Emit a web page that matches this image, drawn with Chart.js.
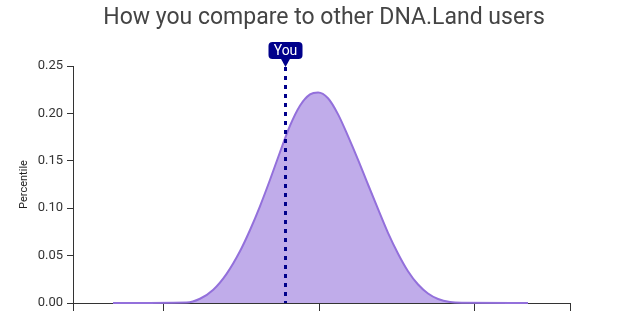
<!DOCTYPE html>
<html>
<head>
<meta charset="utf-8">
<script src="https://cdn.jsdelivr.net/npm/chart.js@4/dist/chart.umd.min.js"></script>
<style>
  body { margin: 0; background: #fff; }
  #wrap { width: 630px; height: 311px; }
</style>
</head>
<body>
<div id="wrap"><canvas id="scoreChart" width="630" height="311"></canvas></div>
<script>
// Score axis (one tick step = 1 unit)
const scoreValues = [-1.329, -0.854, -0.768, -0.682, -0.595, -0.510, -0.445, -0.381, -0.316, -0.252,
    -0.187, -0.123, -0.058, -0.006, 0.058, 0.123, 0.187, 0.252, 0.316, 0.381,
    0.445, 0.510, 0.574, 0.639, 0.703, 0.768, 0.845, 0.920, 1.348];
// Share of users at each score
const percentileValues = [0, 0.0005, 0.0045, 0.0140, 0.0310, 0.0545, 0.0770, 0.1020, 0.1300, 0.1590,
    0.1870, 0.2080, 0.2200, 0.2220, 0.2160, 0.1990, 0.1760, 0.1510, 0.1250, 0.0990,
    0.0740, 0.0520, 0.0335, 0.0195, 0.0100, 0.0042, 0.0010, 0.0002, 0];
const yTicks = [0, 0.05, 0.10, 0.15, 0.20, 0.25];
const xRange = [-1.587, 1.619];
const youScore = -0.219;
const chartTitle = 'How you compare to other DNA.Land users';

const points = scoreValues.map((x, i) => ({ x: x, y: percentileValues[i] }));

// Draws the title and the "You" marker
const overlayPlugin = {
    id: 'overlay',
    afterDatasetsDraw(chart) {
        const ctx = chart.ctx;
        const area = chart.chartArea;
        const x = Math.round(chart.scales.x.getPixelForValue(youScore)) + 0.5;

        ctx.save();
        ctx.strokeStyle = '#00008b';
        ctx.lineWidth = 3;
        ctx.setLineDash([4, 5]);
        ctx.beginPath();
        ctx.moveTo(x, area.top + 1);
        ctx.lineTo(x, area.bottom);
        ctx.stroke();
        ctx.setLineDash([]);

        // label box with pointer
        ctx.fillStyle = '#00008b';
        ctx.beginPath();
        ctx.roundRect(x - 17, area.top - 24, 34, 17, 4);
        ctx.fill();
        ctx.beginPath();
        ctx.moveTo(x - 5, area.top - 8);
        ctx.lineTo(x + 5, area.top - 8);
        ctx.lineTo(x, area.top + 1);
        ctx.closePath();
        ctx.fill();

        ctx.fillStyle = '#ffffff';
        ctx.font = '14px Roboto';
        ctx.textAlign = 'center';
        ctx.textBaseline = 'middle';
        ctx.fillText('You', x, area.top - 15);

        ctx.fillStyle = '#444444';
        ctx.font = '23px Roboto';
        ctx.fillText(chartTitle, 324, 18);
        ctx.restore();
    }
};

new Chart(document.getElementById('scoreChart'), {
    type: 'line',
    data: {
        datasets: [{
            data: points,
            borderColor: 'rgb(147, 112, 219)',
            backgroundColor: 'rgba(147, 112, 219, 0.58)',
            borderWidth: 2,
            fill: 'origin',
            pointRadius: 0,
            cubicInterpolationMode: 'monotone',
            clip: false
        }]
    },
    options: {
        responsive: false,
        animation: false,
        layout: { padding: { top: 66, right: 60, bottom: 0, left: 0 } },
        plugins: {
            legend: { display: false },
            tooltip: { enabled: false },
            title: { display: false }
        },
        scales: {
            x: {
                type: 'linear',
                min: xRange[0],
                max: xRange[1],
                afterFit(scale) { scale.height = 8; scale.paddingLeft = 0; scale.paddingRight = 0; },
                ticks: { display: false, stepSize: 1 },
                grid: { drawOnChartArea: false, drawTicks: true, tickLength: 8, color: '#333' },
                border: { color: '#333', width: 1 }
            },
            y: {
                min: yTicks[0],
                max: yTicks[yTicks.length - 1],
                afterFit(scale) { scale.width = 73; scale.paddingTop = 0; scale.paddingBottom = 0; },
                afterBuildTicks(scale) { scale.ticks = yTicks.map(v => ({ value: v })); },
                ticks: {
                    padding: 4,
                    color: '#333',
                    font: { family: 'Roboto', size: 13 },
                    callback: v => v.toFixed(2)
                },
                grid: { drawOnChartArea: false, drawTicks: true, tickLength: 6, color: '#333' },
                border: { color: '#333', width: 1 },
                title: {
                    display: true,
                    text: 'Percentile',
                    color: '#222',
                    font: { family: 'Roboto', size: 11 },
                    padding: { top: 18, bottom: 0 }
                }
            }
        }
    },
    plugins: [overlayPlugin]
});
</script>
</body>
</html>
